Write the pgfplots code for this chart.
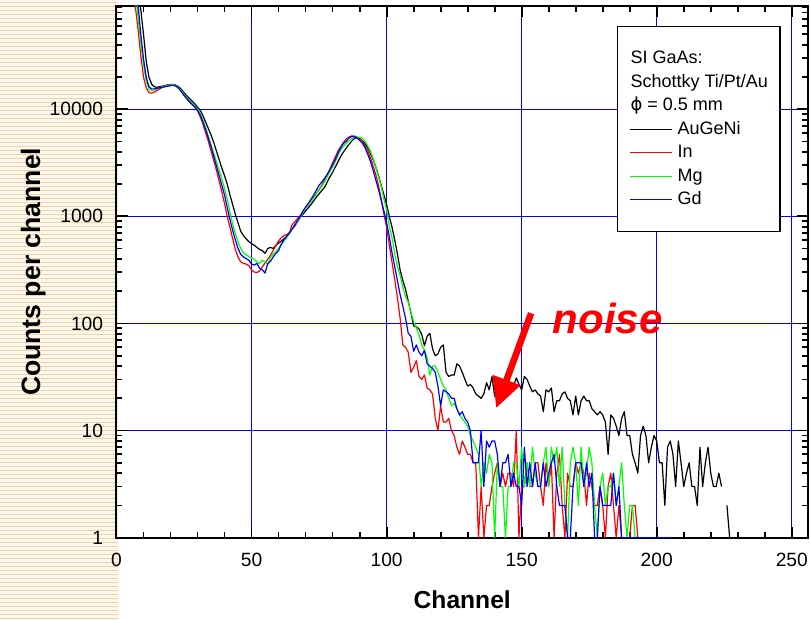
\documentclass[border=0pt]{standalone}
\usepackage{fontspec}
\setmainfont{Liberation Sans}
\newfontfamily\dejavu{DejaVu Sans}
\usepackage{pgfplots}
\pgfplotsset{compat=1.18}
\usetikzlibrary{arrows.meta}
\definecolor{stripebg}{HTML}{FBF7EC}
\definecolor{stripecol}{HTML}{E8D8A8}
\definecolor{cgreen}{HTML}{00FF00}
\definecolor{cblue}{HTML}{0000FF}
\definecolor{cred}{HTML}{FF0000}
\begin{document}
\begin{tikzpicture}
\path[use as bounding box] (0,0) rectangle (405pt,310pt);
\fill[stripebg] (0,0) rectangle (59pt,310pt);
\foreach \i in {0,...,154} {\fill[stripecol] (0pt,\i*2pt+0.5pt) rectangle (59pt,\i*2pt+1.2pt);}
\begin{axis}[
  at={(58.25pt,41.15pt)}, anchor=south west,
  scale only axis, width=345.75pt, height=265.85pt,
  xmin=0, xmax=256, ymin=1, ymax=92000, ymode=log,
  axis line style={line width=1pt},
  xtick={0,50,100,150,200,250}, minor x tick num=4,
  ytick={1,10,100,1000,10000},
  yticklabels={1,10,100,1000,10000},
  minor ytick={2,3,4,5,6,7,8,9,20,30,40,50,60,70,80,90,200,300,400,500,600,700,800,900,2000,3000,4000,5000,6000,7000,8000,9000,20000,30000,40000,50000,60000,70000,80000,90000},
  xtick pos=both, ytick pos=both,
  tick align=inside,
  major tick length=5.5pt, minor tick length=2.8pt,
  every tick/.style={black, line width=0.9pt},
  grid=major,
  major grid style={draw=cblue, line width=0.7pt},
  /pgf/number format/assume math mode=true,
  ticklabel style={font=\fontsize{9.6}{11}\selectfont},
  xticklabel style={inner sep=0pt, yshift=-7.3pt},
  yticklabel style={inner sep=0pt, xshift=-6.5pt},
  xlabel={Channel},
  ylabel={Counts per channel},
  xlabel style={font=\fontsize{12.3}{14}\selectfont\bfseries, at={(axis description cs:0.5,-0.1341)}, anchor=base},
  ylabel style={font=\fontsize{13.3}{15}\selectfont\bfseries, at={(axis description cs:-0.1106,0.5)}, anchor=base},
  unbounded coords=jump,
  every axis plot/.append style={line width=0.6pt, line join=round},
  legend cell align=left,
  legend image code/.code={\draw[#1] (0pt,0pt) -- (20.85pt,0pt);},
  legend style={at={(axis description cs:0.7234,0.9624)}, anchor=north west,
    draw=black, line width=0.65pt, fill=white,
    inner xsep=6pt, inner ysep=12pt,
    font=\fontsize{9}{10}\selectfont,
    column sep=2.65pt, row sep=3.75pt,
    nodes={inner sep=0pt, text height=6.5pt, text depth=1.5pt}},
]
\addlegendimage{empty legend}\addlegendentry{\hspace*{-23.5pt}SI GaAs:}
\addlegendimage{empty legend}\addlegendentry{\hspace*{-23.5pt}Schottky Ti/Pt/Au}
\addlegendimage{empty legend}\addlegendentry{\hspace*{-23.5pt}{\dejavu ϕ} = 0.5 mm}

% AuGeNi
\addplot[black] coordinates {
(7,224000)(8,132000)(9,85100)(10,50100)(11,28200)(12,20000)(13,17180)(14,16220)(15,16030)(16,16220)(17,16410)(18,16670)(19,16900)(20,17060)(21,17060)(22,16790)(23,16220)(24,15310)(25,14290)(26,13340)(27,12590)(28,11890)(29,11220)(30,10470)(31,9772)(32,8710)(33,7586)(34,6607)(35,5754)(36,4898)(37,4074)(38,3388)(39,2818)(40,2399)(41,1995)(42,1585)(43,1288)(44,1047)(45,871)(46,724)(47,661)(48,617)(49,582)(50,556)(51,537)(52,513)(53,490)(54,479)(55,452)(56,501)(57,513)(58,501)(59,537)(60,562)(61,589)(62,617)(63,646)(64,708)(65,759)(66,813)(67,891)(68,977)(69,1047)(70,1122)(71,1202)(72,1288)(73,1396)(74,1514)(75,1622)(76,1738)(77,1862)(78,2089)(79,2344)(80,2570)(81,2884)(82,3236)(83,3631)(84,3981)(85,4315)(86,4677)(87,5012)(88,5309)(89,5433)(90,5309)(91,5070)(92,4786)(93,4365)(94,3890)(95,3388)(96,2884)(97,2399)(98,1950)(99,1585)(100,1288)
(101,1000)(102,794)(103,603)(104,447)(105,316)(106,251)(107,209)(108,162)(109,126)(110,95)(111,93)(112,89)(113,79)(114,62)(115,76)(116,81)(117,58)(118,50)(119,52)(120,60)(121,63)(122,35)(123,32)(124,33)(125,33)(126,42)(127,40)(128,35)(129,30)(130,26)(131,27)(132,25)(133,22)(134,21)(135,20)
(136,22)(137,28)(138,24)(139,32)(140,21)(141,27)(142,30)(143,29)(144,30)(145,26)(146,28)(147,26)(148,31)(149,27)(150,24)(151,32)(152,30)(153,26)(154,23)(155,24)(156,22)(157,21)(158,15)(159,24)(160,23)(161,25)(162,15)(163,19)(164,19)(165,22)(166,23)(167,20)(168,19)(169,14)(170,21)(171,14)(172,19)(173,21)(174,19)(175,19)(176,16)(177,15)(178,14)(179,15)(180,14)(181,12)(182,6)(183,14)(184,13)(185,11)(186,9)(187,13)(188,15)(189,9)(190,9)(191,6)(192,5)(193,4)(194,9)(195,11)(196,9)(197,5)(198,7)(199,9)(200,8)(201,5)(202,5)(203,2)(204,7)(205,8)(206,6)(207,3)(208,8)(209,5)(210,3)(211,4)(212,5)(213,3)(214,3)(215,2)(216,7)(217,3)(218,5)(219,7)(220,4)(221,3)(222,3)(223,4)(224,3)(225,nan)(226,2)(227,1)
};
\addlegendentry{AuGeNi}

% In
\addplot[cred] coordinates {
(6,200000)(7,90000)(8,54950)(9,31620)(10,19950)(11,15850)(12,14290)(13,14130)(14,14450)(15,14960)(16,15490)(17,16030)(18,16410)(19,16790)(20,16980)(21,16980)(22,16600)(23,15850)(24,14790)(25,13490)(26,12590)(27,11750)(28,11090)(29,10470)(30,9661)(31,8511)(32,7244)(33,6026)(34,5012)(35,4074)(36,3311)(37,2692)(38,2138)(39,1698)(40,1318)(41,1000)(42,794)(43,617)(44,490)(45,417)(46,376)(47,363)(48,359)(49,347)(50,316)(51,302)(52,299)(53,309)(54,339)(55,367)(56,398)(57,432)(58,479)(59,531)(60,589)(61,631)(62,661)(63,676)(64,700)(65,832)(66,891)(67,955)(68,1012)(69,1096)(70,1202)(71,1288)(72,1380)(73,1514)(74,1641)(75,1778)(76,1950)(77,2188)(78,2455)(79,2754)(80,3162)(81,3589)(82,4074)(83,4467)(84,4898)(85,5248)(86,5495)(87,5623)(88,5623)(89,5495)(90,5370)(91,5012)(92,4571)(93,4074)(94,3548)(95,2951)(96,2455)(97,1950)(98,1445)(99,1047)(100,794)
(101,537)(102,372)(103,257)(104,174)(105,112)(106,63)(107,60)(108,54)(109,35)(110,39)(111,45)(112,32)(113,30)(114,33)(115,25)(116,24)(117,22)(118,13)(119,10)(120,17)(121,12)(122,12)(123,13)(124,10)(125,9)(126,7)(127,6)(128,8)(129,7)(130,6)(131,6)(132,5)(133,5)(134,1)(135,3)(136,1)(137,2)(138,2)(139,3)(140,4)(141,5)(142,3)(143,4)(144,3)(145,4)(146,4)(147,3)(148,10)(149,1)(150,3)(151,3)(152,5)(153,3)(154,3)(155,5)(156,5)(157,3)(158,2)(159,5)(160,3)(161,5)(162,1)(163,4)(164,6)(165,2)(166,1)(167,4)(168,3)(169,3)(170,5)(171,4)(172,5)(173,4)(174,2)(175,4)(176,3)(177,2)(178,2)(179,3)(180,2)(181,1)(182,3)(183,4)(184,2)(185,1)(186,2)(187,1)(188,1)(189,1)(190,1)(191,2)(192,2)(193,1)(194,1)(195,1)(196,1)(197,1)
};
\addlegendentry{In}

% Mg
\addplot[cgreen] coordinates {
(7,141000)(8,70800)(9,41700)(10,26300)(11,18200)(12,15490)(13,14960)(14,15140)(15,15490)(16,15850)(17,16220)(18,16410)(19,16670)(20,16870)(21,16900)(22,16600)(23,15850)(24,14960)(25,13800)(26,12880)(27,12020)(28,11350)(29,10720)(30,10120)(31,9120)(32,7943)(33,6761)(34,5623)(35,4677)(36,3890)(37,3236)(38,2692)(39,2239)(40,1820)(41,1445)(42,1096)(43,851)(44,692)(45,575)(46,501)(47,457)(48,437)(49,422)(50,407)(51,398)(52,376)(53,363)(54,389)(55,372)(56,355)(57,417)(58,442)(59,468)(60,501)(61,543)(62,589)(63,631)(64,692)(65,759)(66,832)(67,891)(68,977)(69,1096)(70,1202)(71,1288)(72,1380)(73,1479)(74,1622)(75,1758)(76,1905)(77,2089)(78,2344)(79,2630)(80,2884)(81,3236)(82,3715)(83,4169)(84,4519)(85,4786)(86,5070)(87,5309)(88,5433)(89,5495)(90,5470)(91,5370)(92,5012)(93,4571)(94,4074)(95,3467)(96,2884)(97,2344)(98,1905)(99,1445)(100,1148)
(101,813)(102,631)(103,447)(104,339)(105,282)(106,219)(107,178)(108,158)(109,126)(110,105)(111,91)(112,78)(113,63)(114,56)(115,48)(116,33)(117,40)(118,40)(119,35)(120,30)(121,26)(122,24)(123,20)(124,17)(125,18)(126,16)(127,14)(128,13)(129,12)(130,11)(131,9)(132,8)(133,7)(134,6)(135,3)(136,5)(137,4)(138,6)(139,5)(140,1)(141,5)(142,3)(143,3)(144,1)(145,3)(146,3)(147,5)(148,5)(149,3)(150,7)(151,3)(152,5)(153,3)(154,7)(155,4)(156,3)(157,3)(158,5)(159,7)(160,3)(161,7)(162,5)(163,7)(164,3)(165,7)(166,2)(167,1)(168,5)(169,7)(170,5)(171,2)(172,7)(173,3)(174,4)(175,7)(176,5)(177,2)(178,1)(179,3)(180,4)(181,2)(182,3)(183,3)(184,4)(185,2)(186,3)(187,5)(188,2)(189,1)(190,2)(191,2)(192,1)(193,1)(194,1)(195,1)
};
\addlegendentry{Mg}

% Gd
\addplot[cblue] coordinates {
(7,178000)(8,93300)(9,50100)(10,29500)(11,19950)(12,16220)(13,15490)(14,15490)(15,15670)(16,15850)(17,16030)(18,16220)(19,16410)(20,16600)(21,16670)(22,16410)(23,15670)(24,14620)(25,13490)(26,12590)(27,11750)(28,11090)(29,10470)(30,9772)(31,8810)(32,7586)(33,6457)(34,5370)(35,4467)(36,3631)(37,2951)(38,2399)(39,1950)(40,1585)(41,1202)(42,933)(43,741)(44,603)(45,501)(46,442)(47,417)(48,403)(49,389)(50,359)(51,351)(52,363)(53,327)(54,316)(55,295)(56,363)(57,380)(58,417)(59,452)(60,479)(61,550)(62,603)(63,653)(64,692)(65,759)(66,832)(67,912)(68,1000)(69,1122)(70,1216)(71,1318)(72,1445)(73,1585)(74,1758)(75,1950)(76,2089)(77,2265)(78,2455)(79,2723)(80,3020)(81,3388)(82,3890)(83,4365)(84,4786)(85,5012)(86,5370)(87,5559)(88,5521)(89,5433)(90,5129)(91,4842)(92,4365)(93,3802)(94,3273)(95,2692)(96,2188)(97,1778)(98,1413)(99,1122)(100,871)
(101,646)(102,457)(103,339)(104,251)(105,186)(106,145)(107,112)(108,81)(109,76)(110,55)(111,63)(112,54)(113,50)(114,56)(115,42)(116,40)(117,38)(118,35)(119,26)(120,17)(121,24)(122,23)(123,22)(124,20)(125,20)(126,16)(127,14)(128,15)(129,13)(130,12)(131,10)(132,5)(133,5)(134,5)(135,10)(136,3)(137,8)(138,7)(139,8)(140,8)(141,6)(142,3)(143,5)(144,5)(145,6)(146,3)(147,4)(148,3)(149,3)(150,2)(151,7)(152,3)(153,5)(154,3)(155,5)(156,3)(157,3)(158,5)(159,3)(160,4)(161,5)(162,6)(163,3)(164,2)(165,2)(166,2)(167,1)(168,1)(169,3)(170,5)(171,5)(172,5)(173,3)(174,5)(175,3)(176,4)(177,1)(178,1)(179,3)(180,2)(181,2)(182,2)(183,2)(184,4)(185,2)(186,3)(187,1)(188,1)(189,1)(190,1)(195,1)(200,1)(206,1)
};
\addlegendentry{Gd}

\node[anchor=base west, inner sep=0pt, text=cred, font=\fontsize{21}{24}\selectfont\bfseries\itshape] at (axis cs:161.4,81) {noise};
\draw[cred, line width=3.3pt, -{Triangle[length=15pt,width=14pt]}] (axis cs:153.5,124.5) -- (axis cs:140.55,16.2);
\end{axis}
\end{tikzpicture}
\end{document}
